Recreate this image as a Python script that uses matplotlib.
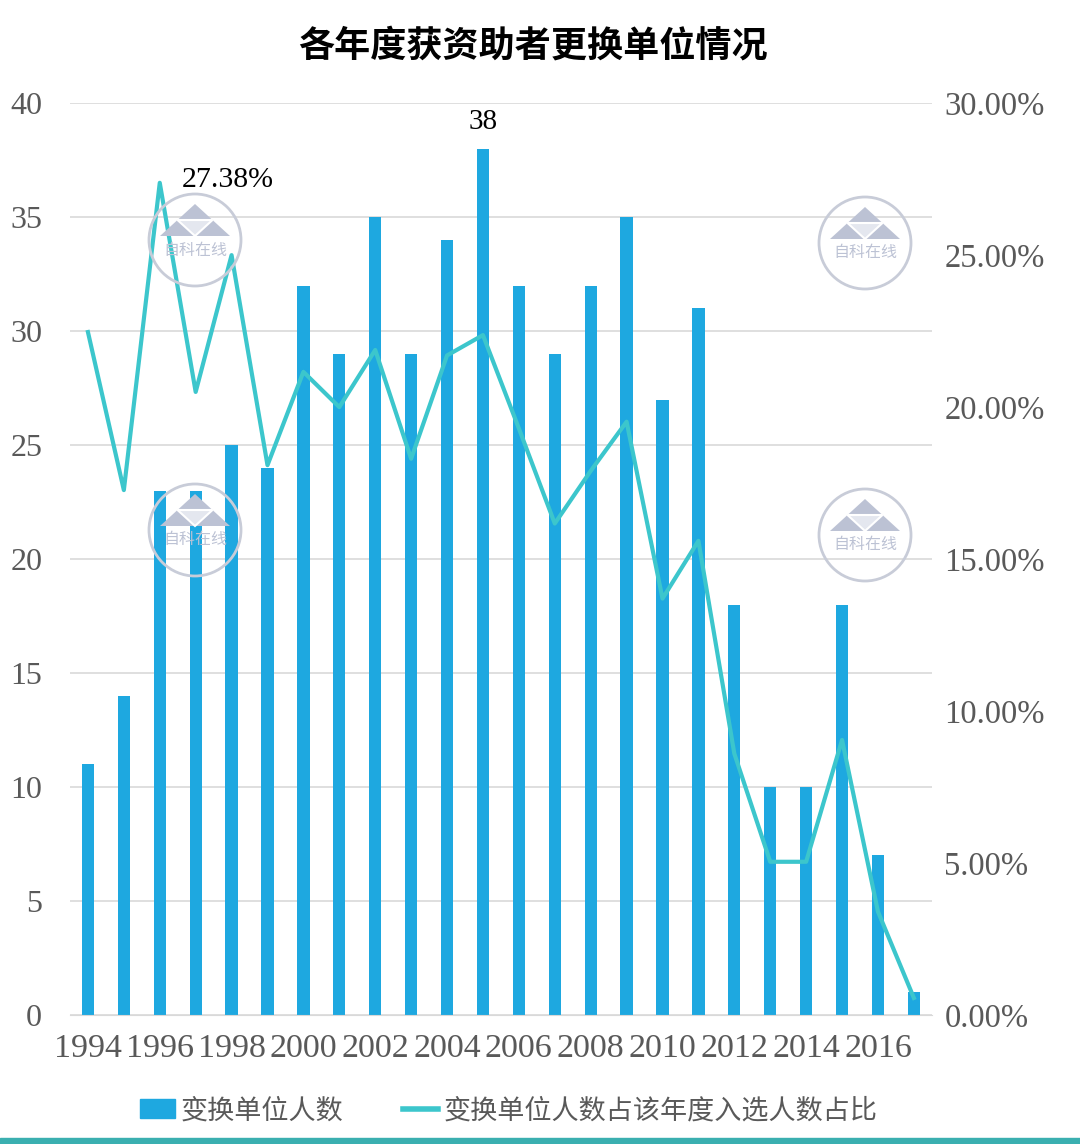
import matplotlib
matplotlib.use('Agg')
import matplotlib.pyplot as plt
from matplotlib.patches import Circle, Polygon, Rectangle
from matplotlib.lines import Line2D
import numpy as np

plt.rcParams['font.family'] = ['Liberation Serif', 'Noto Sans CJK SC', 'DejaVu Sans']

years = list(range(1994, 2018))
counts = [11, 14, 23, 23, 25, 24, 32, 29, 35, 29, 34, 38,
          32, 29, 32, 35, 27, 31, 18, 10, 10, 18, 7, 1]
ratio = [22.47, 17.27, 27.38, 20.5, 25.0, 18.09, 21.16, 20.0, 21.88, 18.3, 21.7, 22.37,
         19.3, 16.17, 17.9, 19.52, 13.7, 15.6, 8.6, 5.04, 5.04, 9.05, 3.4, 0.56]
year_labels = [str(y) if (y - 1994) % 2 == 0 else '' for y in years]

bar_color = '#1EA8E0'
line_color = '#3CC6CC'
tick_color = '#595959'
grid_color = '#D9D9D9'

fig = plt.figure(figsize=(10.8, 11.44), dpi=100)
ax = fig.add_axes([0.0648, 0.1128, 0.798, 0.797])
ax2 = ax.twinx()

x = np.arange(len(years))
ax.bar(x, counts, width=0.34, color=bar_color, zorder=2)
ax.set_xlim(-0.5, len(years) - 0.5)
ax.set_ylim(0, 40)
ax.set_yticks(range(0, 41, 5))
ax.yaxis.grid(True, color=grid_color, lw=1.2, zorder=0)
ax.set_axisbelow(True)
ax.set_xticks(x)
ax.set_xticklabels(year_labels, fontsize=24.5, color=tick_color)
ax.tick_params(axis='y', labelsize=23, colors=tick_color, length=0, pad=20)
ax.tick_params(axis='x', length=0, pad=13)

ax2.plot(x, ratio, color=line_color, lw=3, zorder=3)
ax2.set_ylim(0, 30)
ax2.set_yticks(range(0, 31, 5))
ax2.set_yticklabels(['%.2f%%' % v for v in range(0, 31, 5)])
ax2.tick_params(axis='y', labelsize=23.5, colors=tick_color, length=0, pad=9)

for a in (ax, ax2):
    for s in a.spines.values():
        s.set_visible(False)
ax.spines['bottom'].set_visible(True)
ax.spines['bottom'].set_color(grid_color)

# data labels
imax = int(np.argmax(counts))
ax.annotate(str(counts[imax]), (x[imax], counts[imax]), xytext=(0, 10),
            textcoords='offset points', ha='center', va='bottom', fontsize=21, color='black')
rmax = int(np.argmax(ratio))
ax2.annotate('%.2f%%' % ratio[rmax], (x[rmax], ratio[rmax]), xytext=(16, 2),
             textcoords='offset points', ha='left', va='center', fontsize=21.5, color='black')

fig.text(0.493, 0.96, '各年度获资助者更换单位情况', ha='center', va='center',
         fontsize=26, fontweight='bold', family=['Noto Sans CJK SC'])

# legend
leg_handles = [Rectangle((0, 0), 1, 1, color=bar_color),
               Line2D([0], [0], color=line_color, lw=4)]
fig.legend(leg_handles, ['变换单位人数', '变换单位人数占该年度入选人数占比'],
           loc='center', bbox_to_anchor=(0.471, 0.029), ncol=2, frameon=False,
           prop={'family': ['Noto Sans CJK SC'], 'size': 19.5},
           labelcolor=tick_color, handlelength=1.3, handletextpad=0.2,
           columnspacing=2.2)

# watermark stamps
stamp = '#BCC2D4'
for cx, cy in [(195, 240), (865, 243), (195, 530), (865, 535)]:
    px, py = cx, 1144 - cy
    fig.patches.append(Circle((px, py), 46, transform=None, fill=False,
                              ec='#C8CCD8', lw=2, zorder=5))
    fig.patches.append(Polygon([(px - 35, py + 4), (px + 35, py + 4), (px, py + 36)],
                               closed=True, transform=None, fc=stamp, ec='none', zorder=5))
    fig.patches.append(Polygon([(px - 17.5, py + 20), (px + 17.5, py + 20), (px, py + 4)],
                               closed=True, transform=None, fc='#E4E7EF', ec='white',
                               lw=1.5, zorder=5))
    fig.text(cx / 1080, (py - 10) / 1144, '自科在线', ha='center', va='center',
             fontsize=11.5, color=stamp, family=['Noto Sans CJK SC'], zorder=6)

# bottom band
fig.patches.append(Rectangle((0, 0), 1, 0.005, transform=fig.transFigure,
                             color='#3AAFB0', zorder=1))

fig.savefig('out.png', dpi=100)
